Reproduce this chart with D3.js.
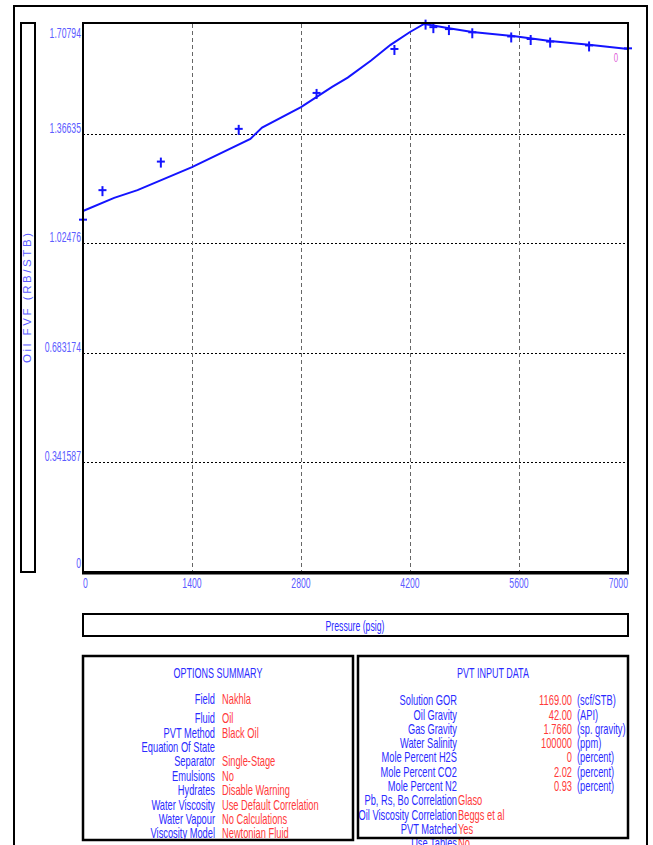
<!DOCTYPE html>
<html>
<head>
<meta charset="utf-8">
<script src="https://cdn.jsdelivr.net/npm/d3@7"></script>
<style>
  html, body { margin: 0; padding: 0; background: #fff; }
  svg { display: block; }
  text { font-family: "Liberation Sans", Arial, sans-serif; }
</style>
</head>
<body>
<svg id="chart" width="653" height="845"></svg>
<script>
// Calculated oil formation volume factor curve (psig vs RB/STB)
const linePressure = [0, 400, 700, 1400, 2150, 2300, 2800, 3200, 3400, 3700, 3950, 4200, 4380, 4500, 4700, 5000, 5500, 6000, 6500, 7000];
const lineFvf      = [1.125, 1.166, 1.190, 1.262, 1.350, 1.385, 1.449, 1.512, 1.541, 1.594, 1.643, 1.683, 1.708, 1.703, 1.695, 1.683, 1.671, 1.655, 1.643, 1.630];

// Measured lab points
const measuredPressure = [0, 250, 1000, 2000, 3000, 4000, 4400, 4500, 4700, 5000, 5500, 5750, 6000, 6500, 7000];
const measuredFvf      = [1.095, 1.187, 1.276, 1.378, 1.490, 1.627, 1.706, 1.695, 1.689, 1.679, 1.666, 1.658, 1.650, 1.638, 1.629];

// Axis ticks
const yTickValues = [0, 0.341587, 0.683174, 1.02476, 1.36635, 1.70794];
const yTickLabels = ["0", "0.341587", "0.683174", "1.02476", "1.36635", "1.70794"];
const xTickValues = [0, 1400, 2800, 4200, 5600, 7000];
const xTickLabels = ["0", "1400", "2800", "4200", "5600", "7000"];

// Summary tables
const optionLabels = ["Field", "Fluid", "PVT Method", "Equation Of State", "Separator", "Emulsions", "Hydrates", "Water Viscosity", "Water Vapour", "Viscosity Model"];
const optionValues = ["Nakhla", "Oil", "Black Oil", "", "Single-Stage", "No", "Disable Warning", "Use Default Correlation", "No Calculations", "Newtonian Fluid"];

const pvtLabels = ["Solution GOR", "Oil Gravity", "Gas Gravity", "Water Salinity", "Mole Percent H2S", "Mole Percent CO2", "Mole Percent N2", "Pb, Rs, Bo Correlation", "Oil Viscosity Correlation", "PVT Matched", "Use Tables"];
const pvtNumbers  = ["1169.00", "42.00", "1.7660", "100000", "0", "2.02", "0.93", "", "", "", ""];
const pvtUnits    = ["(scf/STB)", "(API)", "(sp. gravity)", "(ppm)", "(percent)", "(percent)", "(percent)", "", "", "", ""];
const pvtWords    = ["", "", "", "", "", "", "", "Glaso", "Beggs et al", "Yes", "No"];

const BLUE = "#2b2bff", LIGHTBLUE = "#5c5cff", RED = "#ff3a3a", LINE = "#1414ff";

const svg = d3.select("#chart");
const plot = { left: 83, right: 628, top: 24, bottom: 572 };

const x = d3.scaleLinear().domain([0, 7000]).range([plot.left, plot.right]);
const y = d3.scaleLinear().domain([0, 1.70794]).range([plot.bottom, plot.top]);

// condensed lettering: squeeze each string horizontally
function squeeze(sel, k) {
  sel.each(function () {
    const w = this.getComputedTextLength();
    if (w > 0) {
      d3.select(this).attr("textLength", w * k).attr("lengthAdjust", "spacingAndGlyphs");
    }
  });
}

// table column writer: skips blank cells
function column(g, texts, rowY, xPos, anchor, color) {
  const rows = texts.map((t, i) => ({ t, i })).filter(r => r.t !== "");
  g.append("g").selectAll("text").data(rows).join("text")
    .attr("x", xPos).attr("y", r => rowY(r.i)).attr("dy", "0.35em")
    .attr("text-anchor", anchor).attr("font-size", 15).attr("fill", color)
    .text(r => r.t).call(squeeze, 0.62);
}

// outer frame
svg.append("path")
  .attr("d", "M14,845 L14,6 L647,6 L647,845")
  .attr("fill", "none").attr("stroke", "#000").attr("stroke-width", 2);

// y-axis title box
svg.append("rect").attr("x", 21).attr("y", plot.top - 1).attr("width", 14).attr("height", plot.bottom - plot.top + 1)
  .attr("fill", "#fff").attr("stroke", "#000").attr("stroke-width", 2);
svg.append("text")
  .attr("transform", `translate(31,${(plot.top + plot.bottom) / 2}) rotate(-90)`)
  .attr("text-anchor", "middle")
  .attr("font-size", 11.5).attr("fill", LIGHTBLUE)
  .attr("textLength", 130).attr("lengthAdjust", "spacing")
  .text("Oil FVF  (RB/STB)");

// grid lines
const grid = svg.append("g");
grid.selectAll("line.h").data(yTickValues.slice(1, -1)).join("line")
  .attr("x1", plot.left).attr("x2", plot.right)
  .attr("y1", d => Math.round(y(d)) + 0.5).attr("y2", d => Math.round(y(d)) + 0.5)
  .attr("stroke", "#000").attr("stroke-width", 1).attr("stroke-dasharray", "2,2");
grid.selectAll("line.v").data(xTickValues.slice(1, -1)).join("line")
  .attr("x1", d => Math.round(x(d)) + 0.5).attr("x2", d => Math.round(x(d)) + 0.5)
  .attr("y1", plot.top).attr("y2", plot.bottom)
  .attr("stroke", "#666").attr("stroke-width", 1).attr("stroke-dasharray", "4,3");

// calculated curve
const lineGen = d3.line().x(d => x(d[0])).y(d => y(d[1]));
svg.append("path")
  .datum(d3.zip(linePressure, lineFvf))
  .attr("d", lineGen)
  .attr("fill", "none").attr("stroke", LINE).attr("stroke-width", 2);

// measured points as crosses
const marks = svg.append("g").attr("stroke", LINE).attr("stroke-width", 2);
d3.zip(measuredPressure, measuredFvf).forEach(([p, v]) => {
  const cx = x(p), cy = y(v);
  marks.append("line").attr("x1", cx).attr("x2", cx).attr("y1", cy - 5).attr("y2", cy + 5);
  marks.append("line").attr("x1", cx - 4).attr("x2", cx + 4).attr("y1", cy - 1).attr("y2", cy - 1);
});

// plot frame
svg.append("rect").attr("x", plot.left).attr("y", plot.top - 1).attr("width", plot.right - plot.left).attr("height", plot.bottom - plot.top + 1)
  .attr("fill", "none").attr("stroke", "#000").attr("stroke-width", 2);
svg.append("line").attr("x1", plot.left - 1).attr("x2", plot.right + 1).attr("y1", plot.bottom + 1).attr("y2", plot.bottom + 1)
  .attr("stroke", "#000").attr("stroke-width", 3);

// y tick labels
svg.append("g").selectAll("text").data(yTickValues).join("text")
  .attr("x", plot.left - 2)
  .attr("y", d => Math.min(Math.max(y(d) - 6, plot.top + 9), plot.bottom - 9))
  .attr("dy", "0.35em").attr("text-anchor", "end")
  .attr("font-size", 14).attr("fill", LIGHTBLUE)
  .text((d, i) => yTickLabels[i])
  .call(squeeze, 0.62);

// x tick labels
svg.append("g").selectAll("text").data(xTickValues).join("text")
  .attr("x", d => x(d))
  .attr("y", 583).attr("dy", "0.35em")
  .attr("text-anchor", (d, i) => i === 0 ? "start" : (i === xTickValues.length - 1 ? "end" : "middle"))
  .attr("font-size", 14).attr("fill", LIGHTBLUE)
  .text((d, i) => xTickLabels[i])
  .call(squeeze, 0.62);

// small marker label at the curve end
svg.append("text").attr("x", 616).attr("y", 57).attr("dy", "0.35em")
  .attr("text-anchor", "middle").attr("font-size", 13).attr("fill", "#e060d8")
  .text("0").call(squeeze, 0.6);

// x-axis title box
svg.append("rect").attr("x", plot.left).attr("y", 614).attr("width", plot.right - plot.left).attr("height", 22)
  .attr("fill", "#fff").attr("stroke", "#000").attr("stroke-width", 2);
svg.append("text").attr("x", 355).attr("y", 626).attr("dy", "0.35em")
  .attr("text-anchor", "middle").attr("font-size", 14).attr("fill", BLUE)
  .text("Pressure  (psig)").call(squeeze, 0.62);

// options summary panel
const opt = svg.append("g");
opt.append("text").attr("x", 218).attr("y", 673).attr("dy", "0.35em")
  .attr("text-anchor", "middle").attr("font-size", 15).attr("fill", BLUE)
  .text("OPTIONS SUMMARY").call(squeeze, 0.6);
const optY = i => i === 0 ? 699 : 718 + (i - 1) * 14.4;
column(opt, optionLabels, optY, 215, "end", BLUE);
column(opt, optionValues, optY, 222, "start", RED);
opt.append("rect").attr("x", 83).attr("y", 656).attr("width", 270).attr("height", 184)
  .attr("fill", "none").attr("stroke", "#000").attr("stroke-width", 2.5);

// PVT input data panel
const pvt = svg.append("g");
pvt.append("text").attr("x", 493).attr("y", 673).attr("dy", "0.35em")
  .attr("text-anchor", "middle").attr("font-size", 15).attr("fill", BLUE)
  .text("PVT INPUT DATA").call(squeeze, 0.6);
const pvtY = i => 700 + i * 14.3;
column(pvt, pvtLabels, pvtY, 457, "end", BLUE);
column(pvt, pvtNumbers, pvtY, 572, "end", RED);
column(pvt, pvtUnits, pvtY, 577, "start", BLUE);
column(pvt, pvtWords, pvtY, 458, "start", RED);
pvt.append("rect").attr("x", 358).attr("y", 656).attr("width", 270).attr("height", 182)
  .attr("fill", "none").attr("stroke", "#000").attr("stroke-width", 2.5);
</script>
</body>
</html>
